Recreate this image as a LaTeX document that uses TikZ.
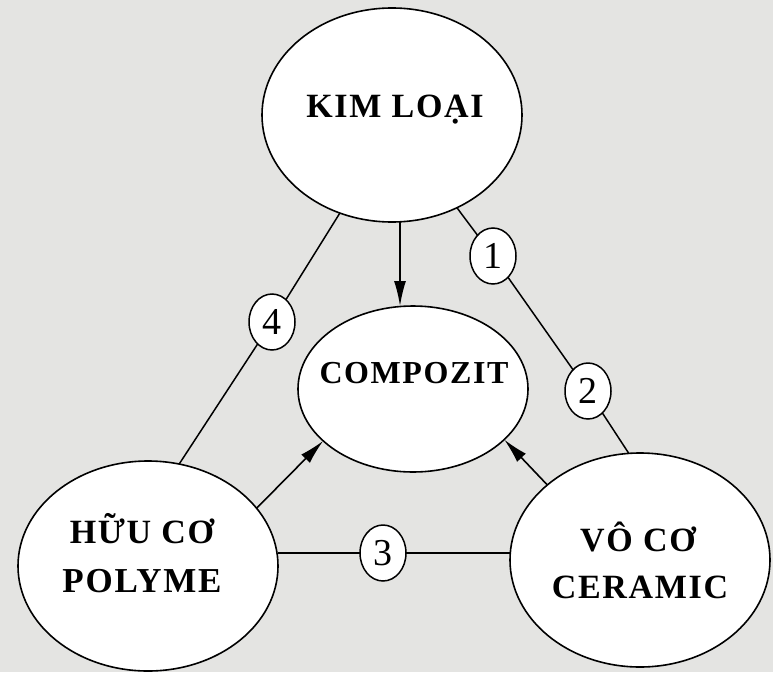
\documentclass[tikz,border=0pt]{standalone}
\usepackage{fontspec}
\setmainfont{Liberation Serif}
\newfontfamily\spaced[LetterSpace=5]{Liberation Serif}
\usetikzlibrary{shapes.geometric,arrows.meta}
\definecolor{paper}{RGB}{228,228,226}
\begin{document}
\begin{tikzpicture}[x=1pt,y=-1pt,
  blob/.style={ellipse,draw,line width=1.6pt,fill=white,inner sep=0pt,outer sep=0pt},
  tag/.style={ellipse,draw,line width=1.5pt,fill=white,inner sep=0pt,outer sep=0pt,
    minimum width=46pt,minimum height=56pt,font=\fontsize{38}{38}\selectfont},
  word/.style={font=\spaced\fontsize{34}{34}\selectfont\bfseries,anchor=base,inner sep=0pt},
  link/.style={line width=1.5pt},
  feed/.style={line width=1.6pt,-{Latex[length=25pt,width=12pt]}}
]
\useasboundingbox (0,0) rectangle (773,672);
\fill[paper] (0,0) rectangle (773,672);

% the four material classes
\node[blob,minimum width=260pt,minimum height=214pt] (kim) at (392,115) {};
\node[blob,minimum width=230pt,minimum height=166pt] (comp) at (413,389) {};
\node[blob,minimum width=260pt,minimum height=210pt] (huu) at (148,566) {};
\node[blob,minimum width=260pt,minimum height=214pt] (vo) at (640,560) {};

\node[word] (kimT) at (395,117) {KIM LOẠI};
\node[word,font=\spaced\fontsize{32}{32}\selectfont\bfseries] (compT) at (414,383) {COMPOZIT};
\node[word] (huuA) at (142,543) {HỮU CƠ};
\node[word,font=\spaced\fontsize{35}{35}\selectfont\bfseries] (huuB) at (142,592) {POLYME};
\node[word] (voA) at (638,551) {VÔ CƠ};
\node[word] (voB) at (640,598) {CERAMIC};

% numbered junctions
\node[tag] (c1) at (493,256) {1};
\node[tag] (c2) at (588,391) {2};
\node[tag] (c3) at (383,553) {3};
\node[tag] (c4) at (272,322) {4};

% pairwise links
\draw[link] (kim.242) -- (c4) -- (huu.73);
\draw[link] (kim.305) -- (c1) -- (c2) -- (vo.96);
\draw[link] (huu.east |- c3) -- (c3) -- (vo.west |- c3);

% contributions to the composite
\draw[feed] ([xshift=8pt]kim.south) -- ([xshift=-13pt]comp.north);
\draw[feed] (huu.28) -- (comp.210);
\draw[feed] (vo.141) -- (comp.331);
\end{tikzpicture}
\end{document}
